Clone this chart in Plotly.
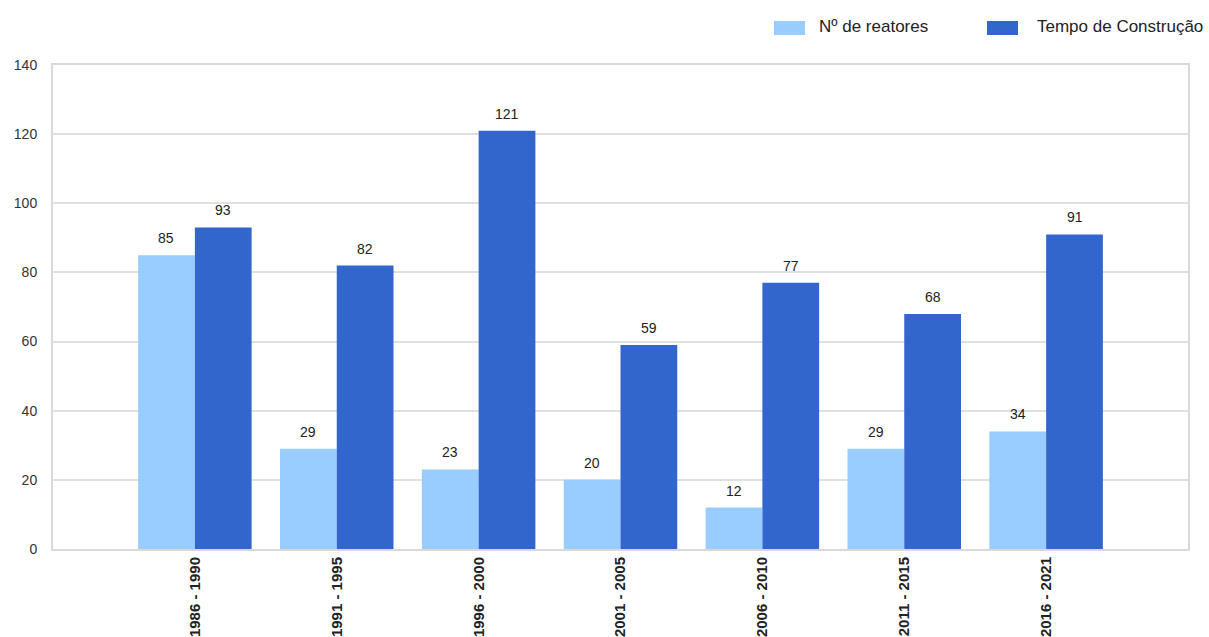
import plotly.graph_objects as go

categories = ["1986 - 1990", "1991 - 1995", "1996 - 2000", "2001 - 2005",
              "2006 - 2010", "2011 - 2015", "2016 - 2021"]
reatores = [85, 29, 23, 20, 12, 29, 34]
tempo = [93, 82, 121, 59, 77, 68, 91]
series_names = ["Nº de reatores", "Tempo de Construção"]
colors = ["#99ccff", "#3366cc"]

FONT = "Arial, Liberation Sans, sans-serif"

fig = go.Figure()
for name, vals, col in zip(series_names, [reatores, tempo], colors):
    fig.add_trace(go.Bar(
        x=categories, y=vals, name=name,
        marker=dict(color=col, line=dict(width=0)),
        showlegend=False,
    ))

# value labels above bars
annotations = []
for vals, shift in zip([reatores, tempo], [-28.4, 28.4]):
    for c, v in zip(categories, vals):
        annotations.append(dict(
            x=c, y=v, xref="x", yref="y", text=str(v), showarrow=False,
            xshift=shift, yshift=17, yanchor="middle",
            font=dict(family=FONT, size=14, color="#222222"),
        ))

# legend drawn at top right
shapes = []
legend_items = [(series_names[0], colors[0], 774, 817), (series_names[1], colors[1], 987, 1035)]
W, H = 1209, 637
L, R, T, B = 53, 21, 65, 88
pw, ph = W - L - R, H - T - B
def px(xp):
    return (xp - L) / pw
def py(yp):
    return (H - B - yp) / ph
for name, col, bx, tx in legend_items:
    shapes.append(dict(type="rect", xref="paper", yref="paper",
                       x0=px(bx), x1=px(bx + 31), y0=py(35), y1=py(21),
                       fillcolor=col, line=dict(width=0)))
    annotations.append(dict(x=px(tx), y=py(27), xref="paper", yref="paper",
                            text=name, showarrow=False, xanchor="left", yanchor="middle",
                            font=dict(family=FONT, size=17, color="#222222")))

fig.update_layout(
    width=W, height=H,
    margin=dict(l=L, r=R, t=T, b=B),
    paper_bgcolor="white", plot_bgcolor="white",
    barmode="group", bargap=0.2, bargroupgap=0,
    font=dict(family=FONT, size=14, color="#222222"),
    showlegend=False,
    annotations=annotations, shapes=shapes,
    xaxis=dict(
        type="category", range=[-1, 7], tickangle=-90,
        tickfont=dict(family=FONT, size=15, color="#222222", weight="bold"),
        showline=True, linecolor="#d9d9d9", linewidth=2, mirror=True,
        showgrid=False, ticks="", automargin=False,
    ),
    yaxis=dict(
        range=[0, 140], dtick=20,
        tickfont=dict(family=FONT, size=14, color="#333333"),
        showline=True, linecolor="#d9d9d9", linewidth=2, mirror=True,
        gridcolor="#e0e0e0", gridwidth=2, zeroline=False,
        ticks="", ticklabelstandoff=11, automargin=False,
    ),
)

fig.write_html("out.html")
